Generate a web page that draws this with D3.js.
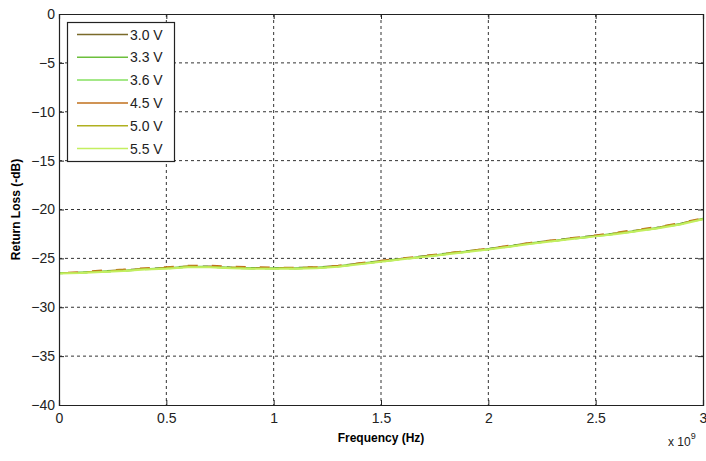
<!DOCTYPE html>
<html>
<head>
<meta charset="utf-8">
<script src="https://cdn.jsdelivr.net/npm/d3@7"></script>
<style>
  body { margin: 0; background: #fff; }
  text { font-family: "Liberation Sans", Arial, sans-serif; }
</style>
</head>
<body>
<div class="chart"></div>
<script>
// data (frequency in units of 1e9 Hz)
const freq = d3.range(0, 31).map(i => i / 10);
const v30 = [-26.5,-26.45,-26.3,-26.2,-26.05,-25.95,-25.8,-25.8,-25.9,-25.95,-25.95,-25.95,-25.9,-25.75,-25.5,-25.25,-25.0,-24.75,-24.5,-24.25,-24.0,-23.7,-23.4,-23.15,-22.9,-22.65,-22.4,-22.1,-21.8,-21.4,-20.9];
const v33 = [-26.5,-26.45,-26.35,-26.25,-26.1,-26.0,-25.85,-25.85,-25.95,-26.0,-26.0,-26.0,-25.95,-25.8,-25.55,-25.3,-25.05,-24.8,-24.55,-24.3,-24.05,-23.75,-23.45,-23.2,-22.95,-22.7,-22.45,-22.15,-21.85,-21.45,-20.95];
const v36 = [-26.55,-26.5,-26.4,-26.3,-26.15,-26.05,-25.9,-25.9,-26.0,-26.05,-26.05,-26.05,-26.0,-25.85,-25.6,-25.35,-25.1,-24.85,-24.6,-24.35,-24.1,-23.8,-23.5,-23.25,-23.0,-22.75,-22.5,-22.2,-21.9,-21.5,-21.0];
const v45 = [-26.5,-26.4,-26.25,-26.15,-26.0,-25.9,-25.75,-25.75,-25.85,-25.9,-25.95,-25.95,-25.9,-25.75,-25.5,-25.25,-25.0,-24.75,-24.5,-24.25,-24.0,-23.7,-23.4,-23.15,-22.9,-22.65,-22.35,-22.05,-21.75,-21.35,-20.9];
const v50 = [-26.5,-26.45,-26.3,-26.2,-26.05,-25.95,-25.8,-25.85,-25.9,-26.0,-26.0,-25.95,-25.9,-25.8,-25.55,-25.3,-25.05,-24.8,-24.5,-24.25,-24.05,-23.75,-23.45,-23.2,-22.95,-22.7,-22.4,-22.1,-21.8,-21.4,-20.95];
const v55 = [-26.55,-26.5,-26.4,-26.3,-26.15,-26.05,-25.9,-25.9,-26.0,-26.05,-26.05,-26.05,-26.0,-25.85,-25.6,-25.35,-25.1,-24.85,-24.6,-24.35,-24.1,-23.8,-23.5,-23.25,-23.0,-22.75,-22.5,-22.2,-21.9,-21.5,-21.0];
const seriesNames = ['3.0 V','3.3 V','3.6 V','4.5 V','5.0 V','5.5 V'];
const seriesValues = [v30, v33, v36, v45, v50, v55];
const seriesColors = ['#7a6a2a','#6cbf3c','#86e060','#c0701c','#b0b020','#c4ef60'];
const xTicks = [0, 0.5, 1, 1.5, 2, 2.5, 3];
const yTicks = [0, -5, -10, -15, -20, -25, -30, -35, -40];

const margin = {top: 14, left: 59, bottom: 56, right: 3};
const W = 706, H = 461;
const width = W - margin.left - margin.right;
const height = H - margin.top - margin.bottom;

const svg = d3.select('.chart').append('svg')
  .attr('width', W)
  .attr('height', H);
const g = svg.append('g')
  .attr('transform', 'translate(' + margin.left + ',' + margin.top + ')');

const xScale = d3.scaleLinear().domain([0, 3]).range([0, width]);
const yScale = d3.scaleLinear().domain([-40, 0]).range([height, 0]);

// grid
g.append('g').selectAll('line').data(xTicks.slice(1, -1)).enter().append('line')
  .attr('x1', d => xScale(d)).attr('x2', d => xScale(d))
  .attr('y1', 0).attr('y2', height)
  .attr('stroke', '#333').attr('stroke-dasharray', '3,3');
g.append('g').selectAll('line').data(yTicks.slice(1, -1)).enter().append('line')
  .attr('y1', d => yScale(d)).attr('y2', d => yScale(d))
  .attr('x1', 0).attr('x2', width)
  .attr('stroke', '#333').attr('stroke-dasharray', '3,3');

// lines
const line = d3.line()
  .x((d, i) => xScale(freq[i]))
  .y(d => yScale(d));
seriesValues.forEach((vals, k) => {
  g.append('path')
    .datum(vals)
    .attr('fill', 'none')
    .attr('stroke', seriesColors[k])
    .attr('stroke-width', k % 2 ? 2 : 1.5)
    .attr('stroke-dasharray', k === 5 ? null : (k % 2 ? '10,14' : '14,10'))
    .attr('stroke-dashoffset', k * 5)
    .attr('d', line);
});

// axes (ticks inside, MATLAB box)
const xAxis = d3.axisBottom(xScale).tickValues(xTicks).tickSize(-5).tickPadding(8).tickFormat(d3.format('~g'));
const yAxis = d3.axisLeft(yScale).tickValues(yTicks).tickSize(-5).tickPadding(4);
const xTop = d3.axisTop(xScale).tickValues(xTicks).tickSize(-5).tickFormat('');
const yRight = d3.axisRight(yScale).tickValues(yTicks).tickSize(-5).tickFormat('');

g.append('g').attr('class', 'axis').attr('transform', `translate(0,${height})`).call(xAxis);
g.append('g').attr('class', 'axis').call(yAxis);
g.append('g').attr('class', 'axis').call(xTop);
g.append('g').attr('class', 'axis').attr('transform', `translate(${width},0)`).call(yRight);

g.selectAll('.axis path').attr('stroke', '#222').attr('stroke-width', 1.2);
g.selectAll('.axis line').attr('stroke', '#222');
g.selectAll('.axis text').attr('font-size', 14).attr('fill', '#222')
  .attr('font-family', '"Liberation Sans", Arial, sans-serif');

// axis labels
svg.append('text')
  .attr('x', margin.left + width / 2).attr('y', 442)
  .attr('text-anchor', 'middle')
  .attr('font-size', 12).attr('font-weight', 'bold')
  .text('Frequency (Hz)');
svg.append('text')
  .attr('transform', 'translate(20,' + (margin.top + height / 2) + ') rotate(-90)')
  .attr('text-anchor', 'middle')
  .attr('font-size', 12).attr('font-weight', 'bold')
  .text('Return Loss (-dB)');
const exp = svg.append('text')
  .attr('x', 668).attr('y', 446)
  .attr('font-size', 12).attr('fill', '#222');
exp.append('tspan').text('x 10');
exp.append('tspan').attr('dy', -7).attr('font-size', 9).text('9');

// legend
const legend = svg.append('g').attr('class', 'legend');
legend.append('rect')
  .attr('x', 67.5).attr('y', 22.5)
  .attr('width', 107).attr('height', 139)
  .attr('fill', '#fff').attr('stroke', '#222').attr('stroke-width', 1.2);
legend.selectAll('.legendLine')
  .data(seriesNames)
  .enter()
  .append('line')
    .attr('x1', 77).attr('x2', 128)
    .attr('y1', (d, i) => 34.5 + i * 22.8)
    .attr('y2', (d, i) => 34.5 + i * 22.8)
    .attr('stroke', (d, i) => seriesColors[i])
    .attr('stroke-width', 1.5);
legend.selectAll('.legendText')
  .data(seriesNames)
  .enter()
  .append('text')
    .attr('x', 130)
    .attr('y', (d, i) => 39.5 + i * 22.8)
    .attr('font-size', 14).attr('fill', '#222')
    .text(d => d);
</script>
</body>
</html>
